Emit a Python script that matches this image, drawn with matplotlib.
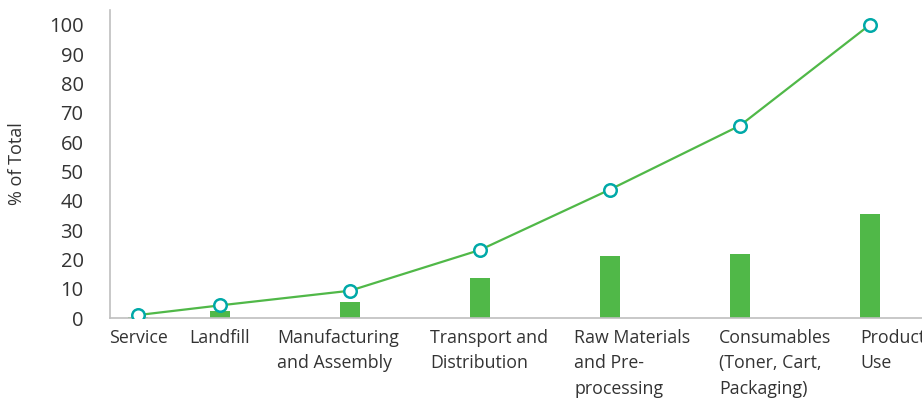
import matplotlib
matplotlib.use("Agg")
import matplotlib.pyplot as plt

# data
categories = [
    "Service",
    "Landfill",
    "Manufacturing\nand Assembly",
    "Transport and\nDistribution",
    "Raw Materials\nand Pre-\nprocessing",
    "Consumables\n(Toner, Cart,\nPackaging)",
    "Product\nUse",
]
share = [0.5, 2.4, 5.4, 13.6, 21.1, 21.8, 35.4]
cumulative = [1.0, 4.3, 9.3, 23.2, 43.8, 65.6, 100.0]
y_ticks = [0, 10, 20, 30, 40, 50, 60, 70, 80, 90, 100]

# layout (pixel positions in the 922 px wide figure)
W, H = 922, 401
cat_px = [138, 220, 350, 480, 610, 740, 870]
label_px = [138, 220, 277, 430, 574, 719, 860]
label_ha = ["center", "center", "left", "left", "left", "left", "left"]

GREEN = "#50b848"
TEAL = "#00a9a8"
TEXT = "#333333"
AXIS = "#bfbfbf"

plt.rcParams["font.family"] = ["Open Sans", "DejaVu Sans"]

fig = plt.figure(figsize=(W / 100, H / 100), dpi=100)
ax_left, ax_bottom, ax_top = 110, 318, 10
ax_w = W - ax_left
ax = fig.add_axes([ax_left / W, (H - ax_bottom) / H,
                   ax_w / W, (ax_bottom - ax_top) / H])

ax.set_xlim(ax_left, W)
ax.set_ylim(0, 105)

ax.bar(cat_px, share, width=20, color=GREEN, zorder=2)
ax.plot(cat_px, cumulative, color=GREEN, lw=1.6, zorder=3,
        marker="o", ms=9, mfc="white", mec=TEAL, mew=1.8)

ax.set_yticks(y_ticks)
ax.tick_params(axis="y", length=0, pad=19, labelsize=14.5, labelcolor=TEXT)
ax.set_xticks([])
ax.set_ylabel("% of Total", fontsize=13, color=TEXT)
ax.yaxis.set_label_coords((26 - ax_left) / ax_w, 0.5)

for x, lab, ha in zip(label_px, categories, label_ha):
    ax.text(x, -3.6, lab, ha=ha, va="top", fontsize=12.8, color=TEXT,
            linespacing=1.55, transform=ax.transData, clip_on=False)

for s in ["top", "right"]:
    ax.spines[s].set_visible(False)
for s in ["left", "bottom"]:
    ax.spines[s].set_color(AXIS)
    ax.spines[s].set_linewidth(1.2)

fig.savefig("out.png", dpi=100)
plt.close(fig)
